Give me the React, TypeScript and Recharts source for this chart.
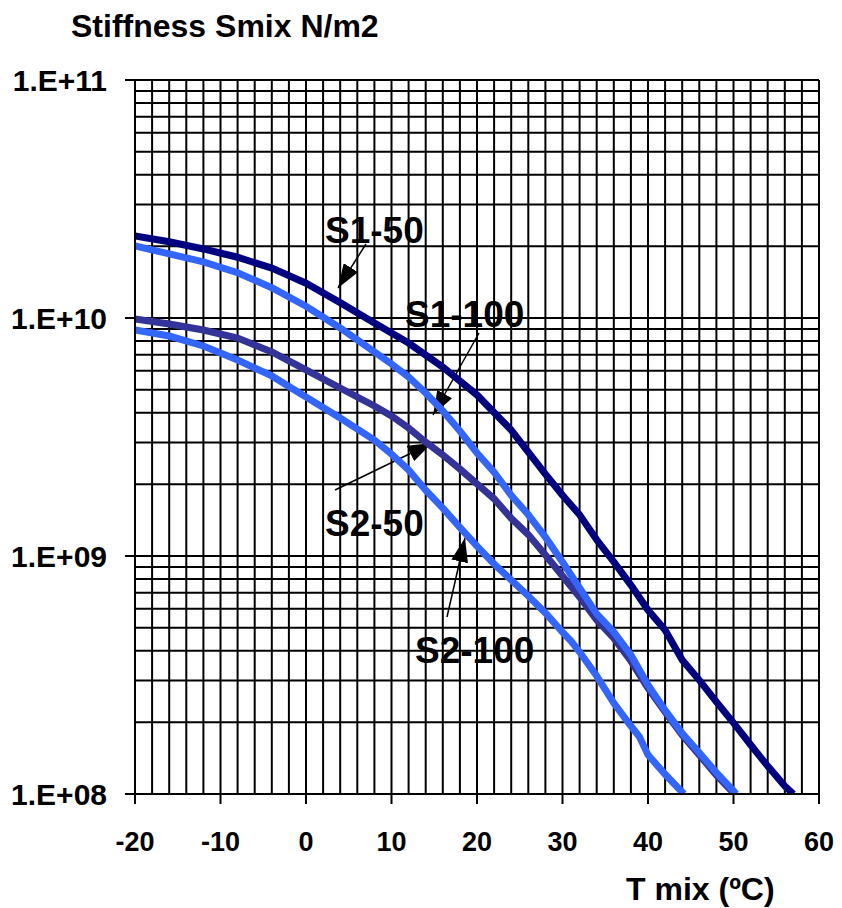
import { LineChart, Line, XAxis, YAxis, ReferenceLine } from 'recharts'

const s150Temps = [-20, -16, -12, -8, -4, 0, 4, 8, 12, 16, 20, 24, 28, 30, 32, 34, 36, 38, 40, 42, 44, 46, 48, 50, 52, 54, 56, 57]
const s150Values = [2.21e10, 2.09e10, 1.95e10, 1.8e10, 1.62e10, 1.4e10, 1.16e10, 9.53e9, 7.85e9, 6.22e9, 4.75e9, 3.38e9, 2.21e9, 1.8e9, 1.49e9, 1.17e9, 9.44e8, 7.55e8, 5.93e8, 4.89e8, 3.66e8, 3.01e8, 2.44e8, 1.99e8, 1.61e8, 1.31e8, 1.08e8, 1.0e8]

const s1100Temps = [-20, -16, -12, -8, -4, 0, 4, 8, 10, 12, 14, 16, 18, 20, 22, 24, 26, 28, 30, 32, 34, 36, 38, 40, 42, 44, 46, 48, 50, 50.3]
const s1100Values = [2.01e10, 1.86e10, 1.72e10, 1.55e10, 1.34e10, 1.12e10, 9.08e9, 7.2e9, 6.41e9, 5.65e9, 4.84e9, 4.07e9, 3.35e9, 2.71e9, 2.25e9, 1.8e9, 1.49e9, 1.2e9, 9.44e8, 7.34e8, 5.71e8, 4.79e8, 3.84e8, 2.87e8, 2.25e8, 1.8e8, 1.49e8, 1.23e8, 1.03e8, 1.0e8]

const s250Temps = [-20, -16, -12, -8, -4, 0, 4, 8, 10, 12, 14, 16, 18, 20, 22, 24, 26, 28, 30, 32, 34, 36, 38, 40, 42, 44, 46, 48, 50, 50.2]
const s250Values = [9.9e9, 9.44e9, 8.9e9, 8.24e9, 7.2e9, 6.05e9, 5.08e9, 4.27e9, 3.88e9, 3.45e9, 3.01e9, 2.66e9, 2.32e9, 2.01e9, 1.74e9, 1.44e9, 1.23e9, 1.01e9, 8.24e8, 6.73e8, 5.38e8, 4.52e8, 3.62e8, 2.79e8, 2.21e8, 1.77e8, 1.46e8, 1.2e8, 1.01e8, 1.0e8]

const s2100Temps = [-20, -16, -12, -8, -4, 0, 4, 8, 10, 12, 14, 16, 18, 20, 22, 24, 26, 28, 30, 31, 32, 34, 36, 38, 39, 40, 42, 43, 44.2]
const s2100Values = [8.9e9, 8.4e9, 7.63e9, 6.66e9, 5.71e9, 4.66e9, 3.8e9, 3.07e9, 2.68e9, 2.3e9, 1.89e9, 1.59e9, 1.32e9, 1.1e9, 9.26e8, 7.93e8, 6.79e8, 5.76e8, 4.79e8, 4.39e8, 3.95e8, 3.13e8, 2.41e8, 1.93e8, 1.74e8, 1.46e8, 1.21e8, 1.11e8, 1.0e8]

const xTicks = [-20, -10, 0, 10, 20, 30, 40, 50, 60]
const yTicks = [1e8, 1e9, 1e10, 1e11]

// log paper grid: 1..9 x 10^n, and every 2 degrees
const gridY: number[] = []
for (let e = 8; e <= 10; e++) for (let m = 1; m <= 9; m++) gridY.push(m * Math.pow(10, e))
gridY.push(1e11)
const gridX: number[] = []
for (let t = -20; t <= 60; t += 2) gridX.push(t)

const toRows = (temps: number[], values: number[]) => temps.map((t, i) => ({ t, v: values[i] }))

const FONT = "'Liberation Sans', Arial, sans-serif"

const fmtY = (v: number) => '1.E+' + String(Math.round(Math.log10(v))).padStart(2, '0')

export default function App() {
  return (
    <div style={{ position: 'absolute', left: 0, top: 0, width: 842, height: 908, background: '#fff' }}>
      <LineChart width={842} height={908} margin={{ top: 80, right: 23, bottom: 0, left: 0 }}>
        <defs>
          <marker id="ah" markerUnits="userSpaceOnUse" markerWidth={24} markerHeight={17} refX={24} refY={8.5} orient="auto">
            <path d="M0,0 L24,8.5 L0,17 z" fill="#000" />
          </marker>
        </defs>
        {gridY.map((v) => (
          <ReferenceLine key={'gy' + v} y={v} stroke="#000" strokeWidth={2} />
        ))}
        {gridX.map((t) => (
          <ReferenceLine key={'gx' + t} x={t} stroke="#000" strokeWidth={2} />
        ))}
        <XAxis
          type="number"
          dataKey="t"
          domain={[-20, 60]}
          ticks={xTicks}
          allowDataOverflow
          height={114}
          tickSize={10}
          tickMargin={28}
          axisLine={{ stroke: '#000', strokeWidth: 2 }}
          tickLine={{ stroke: '#000', strokeWidth: 2 }}
          tick={{ fill: '#000', fontSize: 27, fontWeight: 700, fontFamily: FONT }}
        />
        <YAxis
          type="number"
          dataKey="v"
          scale="log"
          domain={[1e8, 1e11]}
          ticks={yTicks}
          allowDataOverflow
          width={135}
          tickSize={10}
          tickMargin={18}
          tickFormatter={fmtY}
          axisLine={{ stroke: '#000', strokeWidth: 2 }}
          tickLine={{ stroke: '#000', strokeWidth: 2 }}
          tick={{ fill: '#000', fontSize: 30, fontWeight: 700, fontFamily: FONT }}
        />
        <Line data={toRows(s150Temps, s150Values)} dataKey="v" stroke="#000080" strokeWidth={7} dot={false} type="linear" isAnimationActive={false} />
        <Line data={toRows(s250Temps, s250Values)} dataKey="v" stroke="#333399" strokeWidth={7} dot={false} type="linear" isAnimationActive={false} />
        <Line data={toRows(s2100Temps, s2100Values)} dataKey="v" stroke="#3366FF" strokeWidth={7} dot={false} type="linear" isAnimationActive={false} />
        <Line data={toRows(s1100Temps, s1100Values)} dataKey="v" stroke="#3366FF" strokeWidth={7} dot={false} type="linear" isAnimationActive={false} />

        <g fontFamily={FONT} fontWeight={700} fill="#000">
          <text x={71} y={37} fontSize={32}>Stiffness Smix N/m2</text>
          <text x={626} y={900} fontSize={32}>T mix (ºC)</text>
          <text x={325} y={243} fontSize={37}>S1-50</text>
          <text x={405} y={327} fontSize={37}>S1-100</text>
          <text x={325} y={536} fontSize={37}>S2-50</text>
          <text x={415} y={663} fontSize={37}>S2-100</text>
        </g>
        <g stroke="#000" strokeWidth={1.5}>
          <line x1={366} y1={244} x2={338} y2={288} markerEnd="url(#ah)" />
          <line x1={479} y1={333} x2={433} y2={415} markerEnd="url(#ah)" />
          <line x1={335} y1={490} x2={432} y2={443} markerEnd="url(#ah)" />
          <line x1={447} y1={617} x2={465} y2={538} markerEnd="url(#ah)" />
        </g>
      </LineChart>
    </div>
  )
}
